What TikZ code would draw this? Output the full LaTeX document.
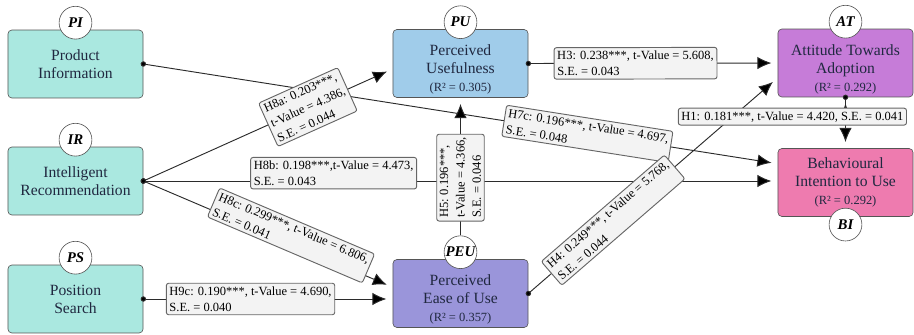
\documentclass[tikz,border=0pt]{standalone}
\usepackage{fontspec}
\setmainfont{Liberation Serif}
\usetikzlibrary{arrows.meta}

\definecolor{infofill}{HTML}{AAE8E0}
\definecolor{pufill}{HTML}{A0CCEA}
\definecolor{peufill}{HTML}{9A95DA}
\definecolor{atfill}{HTML}{C67CD8}
\definecolor{bifill}{HTML}{EE7BAF}
\definecolor{boxline}{HTML}{555555}
\definecolor{boxtext}{HTML}{202840}
\definecolor{coeffill}{HTML}{F3F3F3}
\definecolor{coefline}{HTML}{666666}
\definecolor{pathgray}{HTML}{2B2B2B}

\newcommand{\rtwo}[1]{{\fontsize{8}{9}\selectfont (R² = #1)}}
\newcommand{\toppad}{\rule{0pt}{15pt}}

\begin{document}
\begin{tikzpicture}[x=0.0225cm,y=-0.0225cm,
  construct/.style={draw=boxline,rounded corners=2.5pt,minimum width=86.5pt,minimum height=43.5pt,
    inner ysep=1pt,align=center,text=boxtext,font=\fontsize{10}{11.5}\selectfont},
  tag/.style={circle,draw=boxline,fill=white,text=black,minimum size=21pt,inner sep=0pt,
    font=\fontsize{9.5}{11}\selectfont\bfseries\itshape},
  effect/.style={draw=pathgray,line width=0.6pt,arrows={-Latex[length=9pt,width=8pt]},shorten >=4pt},
  from dot/.style={arrows={Circle[length=3.4pt]-Latex[length=9pt,width=8pt]},shorten <=-1.7pt},
  coef/.style={draw=coefline,fill=coeffill,rounded corners=1.5pt,align=left,inner sep=2pt,
    text=black,font=\fontsize{8}{10.5}\selectfont}]

  \useasboundingbox (0,0) rectangle (914,335);

  % constructs
  \node[construct,fill=infofill] (PI) at (75.5,64) {Product\\Information};
  \node[construct,fill=infofill] (IR) at (75.5,181) {Intelligent\\Recommendation};
  \node[construct,fill=infofill] (PS) at (75.5,299) {Position\\Search};
  \node[construct,fill=pufill] (PU) at (460.5,63.5) {\toppad Perceived\\Usefulness\\\rtwo{0.305}};
  \node[construct,fill=peufill] (PEU) at (460.5,293.5) {\toppad Perceived\\Ease of Use\\\rtwo{0.357}};
  \node[construct,fill=atfill] (AT) at (845.5,63) {\toppad Attitude Towards\\Adoption\\\rtwo{0.292}};
  \node[construct,fill=bifill] (BI) at (845.5,182.5) {Behavioural\\Intention to Use\\\rtwo{0.292}};

  % tags
  \node[tag] (PItag) at ([yshift=4.5pt]PI.north) {PI};
  \node[tag] (IRtag) at ([yshift=4.5pt]IR.north) {IR};
  \node[tag] (PStag) at ([yshift=4.5pt]PS.north) {PS};
  \node[tag] (PUtag) at ([yshift=4.5pt]PU.north) {PU};
  \node[tag] (PEUtag) at ([yshift=4.5pt]PEU.north) {PEU};
  \node[tag] (ATtag) at ([yshift=4.5pt]AT.north) {AT};
  \node[tag] (BItag) at ([yshift=-5pt]BI.south) {BI};

  % paths
  \path[effect]
    (PI.east) edge[from dot] node[coef,sloped,pos=0.7] (h7c)
      {H7c: 0.196***, t-Value = 4.697,\\S.E. = 0.048} ([yshift=12pt]BI.west)
    (IR.east) edge[from dot] node[coef,sloped,pos=0.3,yshift=5pt] (h8b)
      {H8b: 0.198***,t-Value = 4.473,\\S.E. = 0.043} (BI.west |- IR.east)
    (IR.east) edge[from dot] node[coef,sloped,pos=0.66] (h8a)
      {H8a: 0.203***,\\t-Value = 4.386,\\S.E. = 0.044} ([yshift=-3.5pt]PU.west)
    (IR.east) edge[from dot] node[coef,sloped,pos=0.58,yshift=5pt] (h8c)
      {H8c: 0.299***, t-Value = 6.806,\\S.E. = 0.041} ([yshift=4pt]PEU.west)
    (PS.east) edge[from dot] node[coef,sloped,pos=0.43] (h9c)
      {H9c: 0.190***, t-Value = 4.690,\\S.E. = 0.040} (PEU.west |- PS.east)
    (PU.east) edge[from dot] node[coef,sloped,pos=0.43] (h3)
      {H3: 0.238***, t-Value = 5.608,\\S.E. = 0.043} (AT.west)
    (PEUtag.north) edge node[coef,sloped,pos=0.42] (h5)
      {H5: 0.196***,\\t-Value = 4.366,\\S.E. = 0.046} (PU.south)
    (PEU.east) edge[from dot] node[coef,sloped,pos=0.34] (h4)
      {H4: 0.249***, t-Value = 5.768,\\S.E. = 0.044} ([yshift=-9.5pt]AT.west)
    (AT.south) edge[from dot] node[coef,pos=0.38,xshift=-34pt] (h1)
      {H1: 0.181***, t-Value = 4.420, S.E. = 0.041} (BI.north);
\end{tikzpicture}
\end{document}
